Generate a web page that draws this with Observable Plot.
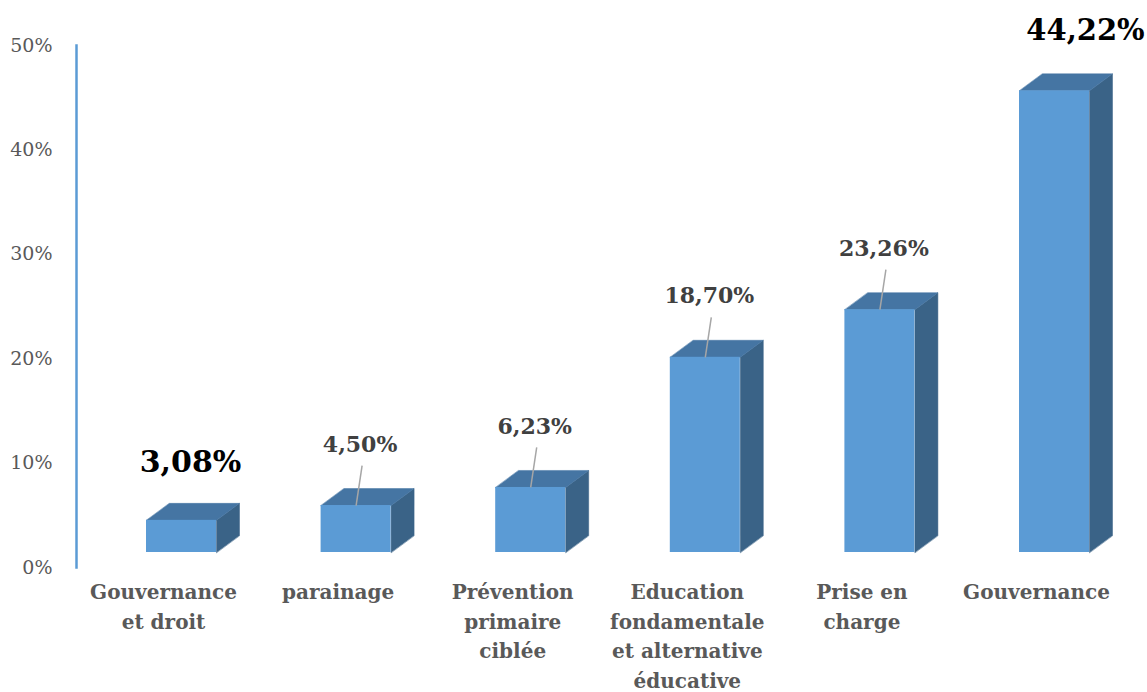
<!DOCTYPE html>
<html>
<head>
<meta charset="utf-8">
<script src="https://cdn.jsdelivr.net/npm/d3@7"></script>
<script src="https://cdn.jsdelivr.net/npm/@observablehq/plot@0.6"></script>
<style>
  html, body { margin: 0; padding: 0; background: #fff; }
</style>
</head>
<body>
<div id="chart"></div>
<script>
const categories = [
  "Gouvernance\net droit",
  "parainage",
  "Prévention\nprimaire\nciblée",
  "Education\nfondamentale\net alternative\néducative",
  "Prise en\ncharge",
  "Gouvernance"
];
const values = [3.08, 4.50, 6.23, 18.70, 23.26, 44.22];
const yTicks = [0, 10, 20, 30, 40, 50];
const highlighted = [0, 5];

const W = 1147, H = 692;
const xRange = [181, 1054];
const yRange = [567, 45];
const kx = (xRange[1] - xRange[0]) / (categories.length - 1); // px per index
const ky = (yRange[0] - yRange[1]) / 50;                        // px per %
const hw = 35 / kx;       // half width of front face
const depthX = 23 / kx;   // 3D depth
const depthY = 17 / ky;
const floor = -15;        // front baseline offset (px)

const data = categories.map((c, i) => ({
  i, cat: c, v: values[i],
  label: values[i].toFixed(2).replace(".", ",") + "%"
}));

const topFaces = [], sideFaces = [];
for (const d of data) {
  const a = d.i - hw, b = d.i + hw;
  topFaces.push(
    {k: d.i, x: a, y: d.v}, {k: d.i, x: b, y: d.v},
    {k: d.i, x: b + depthX, y: d.v + depthY}, {k: d.i, x: a + depthX, y: d.v + depthY}
  );
  sideFaces.push(
    {k: d.i, x: b, y: 0}, {k: d.i, x: b, y: d.v},
    {k: d.i, x: b + depthX, y: d.v + depthY}, {k: d.i, x: b + depthX, y: depthY}
  );
}

const small = data.filter(d => !highlighted.includes(d.i));
const font = "'Palatino Linotype', 'Book Antiqua', Palatino, 'DejaVu Serif', serif";

const chart = Plot.plot({
  width: W,
  height: H,
  marginLeft: 76,
  marginRight: 0,
  marginTop: yRange[1],
  marginBottom: H - yRange[0],
  style: {fontFamily: font, background: "#fff"},
  x: {domain: [0, categories.length - 1], range: xRange, axis: null},
  y: {domain: [0, 50], range: yRange},
  marks: [
    Plot.axisY({ticks: yTicks, tickSize: 0, tickPadding: 24, tickFormat: d => d + "%",
      fontSize: 19, color: "#595959", label: null}),
    Plot.frame({anchor: "left", stroke: "#5B9BD5", strokeWidth: 2.5}),
    Plot.line(sideFaces, {x: "x", y: "y", z: "k", curve: "linear-closed",
      fill: "#3A6387", stroke: "#3A6387", strokeWidth: 0.5, dy: floor}),
    Plot.line(topFaces, {x: "x", y: "y", z: "k", curve: "linear-closed",
      fill: "#4575A3", stroke: "#4575A3", strokeWidth: 0.5, dy: floor}),
    Plot.rect(data, {x1: d => d.i - hw, x2: d => d.i + hw, y1: () => 0, y2: d => d.v,
      fill: "#5B9BD5", dy: floor}),
    Plot.link(small, {x1: d => d.i, y1: d => d.v, x2: d => d.i + 6 / kx, y2: d => d.v + 40 / ky,
      stroke: "#A6A6A6", strokeWidth: 1.5, dy: floor}),
    Plot.text(small, {x: d => d.i + 4 / kx, y: d => d.v, text: "label", dy: floor - 61,
      fontSize: 22, fontWeight: "bold", fill: "#404040"}),
    Plot.text(data.filter(d => d.i === highlighted[0]), {x: "i", y: "v", text: "label",
      dx: 9, dy: floor - 58, fontSize: 30, fontWeight: "bold", fill: "#000"}),
    Plot.text(data.filter(d => d.i === highlighted[1]), {x: "i", y: "v", text: "label",
      dx: 31, dy: floor - 60, fontSize: 29, fontWeight: "bold", fill: "#000"}),
    Plot.text(data, {x: "i", y: () => 0, text: "cat", dx: -18, dy: 11, lineAnchor: "top",
      lineHeight: 1.47, fontSize: 20, fontWeight: "bold", fill: "#595959"})
  ]
});
document.getElementById("chart").appendChild(chart);
</script>
</body>
</html>
